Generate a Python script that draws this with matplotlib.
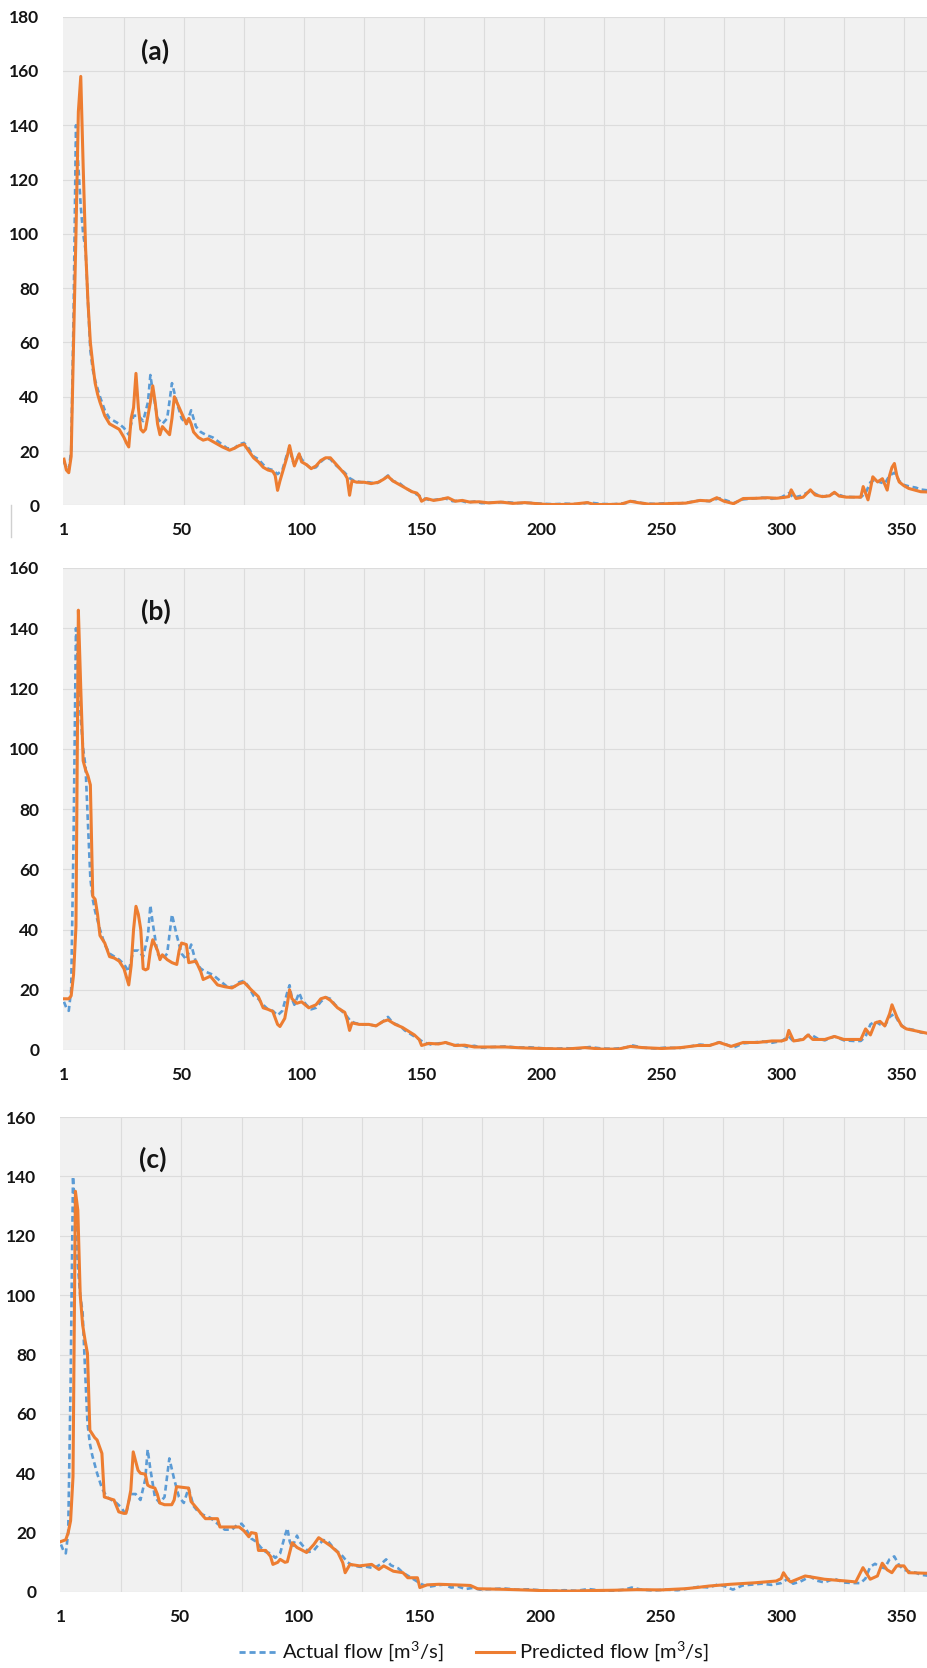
import matplotlib
matplotlib.use('Agg')
import matplotlib.pyplot as plt
from matplotlib.lines import Line2D

# ---------------- data ----------------
actual_days = [1, 2, 3, 4, 5, 6, 7, 8, 9, 10, 11, 12, 13, 14, 15, 16, 18, 20, 22, 24, 26, 28, 29, 30,
               32, 34, 36, 37, 38, 40, 42, 44, 46, 48, 50, 52, 54, 56, 58, 60, 63, 66, 69, 72, 74,
               76, 78, 80, 82, 84, 86, 88, 90, 92, 94, 95, 96, 97, 99, 100, 102, 104, 106, 108, 110,
               112, 114, 116, 118, 120, 122, 125, 128, 131, 134, 136, 138, 141, 143, 145, 147, 149,
               151, 154, 157, 160, 163, 166, 169, 172, 175, 180, 185, 190, 195, 200, 205, 210, 215,
               220, 225, 230, 235, 238, 242, 247, 252, 257, 262, 266, 270, 274, 277, 280, 284, 288,
               292, 296, 300, 303, 305, 308, 312, 315, 318, 322, 326, 330, 333, 335, 337, 339, 341,
               343, 345, 347, 349, 351, 353, 356, 358, 361]
actual_flow = [16, 14, 13, 20, 70, 140, 125, 110, 100, 94, 75, 57, 50, 46, 43, 40, 35, 32, 31, 30,
               28.5, 26, 30, 33, 33, 31, 38, 48, 42, 32, 30, 32, 45, 38, 32, 30, 35, 29, 27, 26, 25,
               23, 21, 21, 22.5, 23, 21, 18, 17, 15, 13.5, 13, 11.5, 13, 19, 21.5, 17, 15, 19, 17,
               15, 13.5, 14, 16, 17.5, 17, 15, 13.5, 12, 10, 9, 8.5, 8.5, 8, 9.5, 11, 9, 8, 6.5,
               5.5, 4.5, 3.5, 2.5, 1.8, 2.2, 2.5, 1.5, 1.8, 1.0, 1.4, 0.8, 1.0, 1.2, 0.8, 0.9, 0.6,
               0.4, 0.6, 0.4, 1.0, 0.5, 0.4, 0.8, 1.5, 0.8, 0.5, 0.8, 0.6, 1.2, 1.8, 1.5, 2.6, 1.8,
               0.8, 2.2, 2.5, 2.8, 2.4, 3.0, 4.5, 2.8, 3.5, 5.2, 3.8, 3.2, 4.5, 3.2, 3.0, 3.0, 4.5,
               8.5, 9.5, 8.5, 8, 11, 12, 9, 7.5, 7, 6.5, 5.8, 5.5]

pred_a_days = [1, 2, 3, 4, 5, 6, 7, 8, 9, 10, 11, 12, 13, 14, 15, 16, 18, 20, 22, 24, 26, 27, 28, 29,
               30, 31, 32, 33, 34, 35, 36, 37, 38, 39, 40, 41, 42, 43, 44, 45, 46, 47, 48, 50, 52,
               53, 54, 55, 57, 59, 61, 64, 67, 70, 72, 74, 76, 78, 80, 82, 84, 86, 88, 89, 90, 91,
               92, 94, 95, 96, 97, 99, 100, 102, 104, 106, 108, 110, 112, 114, 116, 118, 119, 120,
               121, 123, 126, 129, 132, 134, 136, 138, 140, 142, 144, 146, 148, 149, 150, 152, 155,
               158, 161, 164, 167, 170, 174, 178, 183, 188, 193, 198, 202, 208, 213, 219, 222, 228,
               233, 237, 240, 245, 250, 255, 260, 266, 270, 273, 276, 280, 284, 290, 294, 298, 301,
               303, 304, 306, 309, 312, 314, 317, 320, 322, 324, 327, 330, 333, 334, 336, 337, 338,
               340, 342, 344, 345, 346, 347, 348, 349, 351, 353, 356, 358, 361]
pred_a_flow = [17, 13, 12, 18, 60, 100, 145, 158, 125, 95, 75, 60, 52, 45, 41, 38, 33, 30, 29, 28,
               25, 23, 21.5, 32, 36, 48.6, 36, 28, 27, 28, 33, 38, 44, 38, 30, 26, 29, 28, 27, 26,
               32, 40, 38, 34, 30, 32, 30, 27, 25, 24, 24.5, 23, 21.5, 20.3, 21, 22, 22.5, 20, 17.5,
               16, 14, 13, 12.5, 11, 5.5, 9, 12, 18, 22, 18, 14.5, 19, 16, 15, 13.5, 14.5, 16.5,
               17.5, 17.5, 15.5, 13.5, 11.5, 10, 3.7, 9, 8.5, 8.5, 8.0, 8.5, 9.5, 10.7, 9, 8, 7, 6,
               5, 4.5, 3.5, 1.5, 2.5, 1.8, 2.2, 2.8, 1.5, 1.8, 1.2, 1.3, 0.9, 1.2, 0.7, 1.0, 0.6,
               0.3, 0.3, 0.4, 1.0, 0.3, 0.3, 0.4, 1.5, 1.0, 0.4, 0.5, 0.7, 0.8, 1.8, 1.6, 2.8, 1.5,
               0.6, 2.5, 2.6, 2.8, 2.6, 2.9, 3.2, 5.7, 2.5, 3.0, 5.7, 3.8, 3.2, 3.5, 4.8, 3.4, 3.0,
               3.0, 3.0, 6.9, 2.0, 6, 10.5, 8.6, 9.8, 5.6, 11, 14, 15.4, 11, 8.6, 7.2, 6.2, 5.5,
               5.0, 4.9]

pred_b_days = [1, 3, 4, 5, 6, 7, 8, 9, 10, 11, 12, 13, 14, 15, 16, 18, 20, 22, 24, 26, 28, 29, 30,
               31, 32, 33, 34, 35, 36, 37, 38, 40, 41, 42, 44, 46, 48, 49, 50, 52, 53, 56, 58, 59,
               62, 65, 68, 71, 74, 76, 79, 82, 84, 86, 88, 90, 91, 93, 94, 95, 96, 98, 100, 103,
               106, 108, 110, 112, 115, 118, 119, 120, 121, 124, 128, 131, 134, 136, 139, 142, 145,
               147, 149, 150, 153, 157, 160, 164, 168, 172, 178, 185, 192, 200, 210, 218, 225, 232,
               237, 242, 250, 258, 265, 270, 274, 279, 284, 290, 296, 300, 302, 303, 305, 309, 311,
               313, 318, 322, 326, 330, 333, 335, 337, 339, 341, 343, 345, 346, 348, 350, 352, 355,
               358, 361]
pred_b_flow = [17, 17, 18, 25, 41, 146, 120, 96, 93, 91, 88, 51, 50, 45, 38, 35.5, 31, 30.5, 29.5,
               27, 21.6, 28, 40, 47.7, 45, 40, 27, 26.6, 27, 33, 36.6, 33, 30, 31.6, 30, 29, 28.4,
               33, 35.5, 35, 29, 29.5, 26, 23.4, 24.5, 21.6, 21, 20.6, 22, 22.5, 20, 17.7, 14, 13.5,
               12.8, 8.5, 7.8, 10.5, 15, 20, 17, 15.5, 16, 14, 15, 17, 17.5, 16.5, 14, 12.5, 10,
               6.5, 9, 8.5, 8.5, 8, 9.5, 10, 8.5, 7.5, 6, 5, 3.5, 1.5, 2.2, 2.0, 2.5, 1.5, 1.6,
               1.0, 1.0, 1.0, 0.7, 0.5, 0.3, 0.8, 0.3, 0.3, 1.2, 0.8, 0.5, 0.8, 1.5, 1.5, 2.5, 1.2,
               2.5, 2.5, 3.0, 3.0, 3.5, 6.5, 3.0, 3.5, 5.0, 3.5, 3.5, 4.5, 3.5, 3.5, 3.5, 7, 5, 9,
               9.5, 8, 12, 15, 11, 8, 7.0, 6.5, 6, 5.5]

pred_c_days = [1, 3, 4, 5, 6, 7, 8, 9, 10, 11, 12, 13, 15, 16, 18, 19, 21, 23, 25, 27, 28, 29, 30,
               31, 33, 34, 36, 37, 38, 40, 41, 42, 44, 47, 48, 49, 54, 55, 58, 60, 61, 66, 67, 75,
               77, 79, 80, 82, 83, 86, 88, 89, 91, 92, 94, 95, 97, 99, 103, 106, 108, 110, 113, 116,
               118, 119, 121, 125, 130, 133, 135, 139, 143, 145, 149, 150, 153, 158, 165, 171, 174,
               185, 193, 200, 212, 222, 231, 240, 250, 260, 265, 270, 279, 289, 298, 300, 301, 303,
               304, 310, 313, 318, 327, 331, 334, 337, 340, 342, 344, 346, 348, 351, 353, 361]
pred_c_flow = [17, 17.6, 20, 24, 38.8, 135, 128.6, 100, 90, 84.8, 80.4, 54.5, 52, 51.2, 46.7, 32,
               31.5, 31, 27, 26.5, 26.5, 30, 34.3, 47.2, 41, 40, 39.7, 36, 35.5, 35, 33, 30, 29.4,
               29.4, 31, 35.5, 35, 30.5, 27.6, 25.6, 24.7, 24.7, 21.9, 21.9, 20.6, 18.6, 20, 19.7,
               14, 14, 12, 9.3, 10, 11, 10, 10.2, 16.6, 15, 13.3, 16, 18.3, 17.2, 15.5, 13.3, 9.9,
               6.5, 9.3, 8.8, 9.3, 7.6, 8.8, 7, 6.5, 4.8, 4.8, 1.5, 2.4, 2.6, 2.4, 2.2, 1.1, 0.9,
               0.7, 0.5, 0.3, 0.5, 0.6, 0.8, 0.7, 1.1, 1.5, 2.0, 2.6, 3.1, 3.7, 4.5, 6.5, 4, 3.4,
               5.4, 5.0, 4.3, 3.7, 3.4, 8.2, 4.3, 5.4, 9.7, 7.5, 6.5, 8.8, 8.8, 6.5, 6.3]

panel_labels = ['(a)', '(b)', '(c)']
y_max = [180, 160, 160]
x_tick_labels = [1, 50, 100, 150, 200, 250, 300, 350]
series_names = ['Actual flow [m$^{3}$/s]', 'Predicted flow [m$^{3}$/s]']

# ---------------- styling ----------------
plt.rcParams['font.family'] = ['Lato', 'DejaVu Sans']
plt.rcParams['mathtext.fontset'] = 'custom'
plt.rcParams['mathtext.rm'] = 'Lato'
BLUE = '#5b9bd5'
ORANGE = '#ed7d31'
BG = '#f1f1f1'
GRID = '#dcdcdc'
TXT = '#141414'

fig = plt.figure(figsize=(9.28, 16.68), dpi=100)

W, H = 928.0, 1668.0
# (left_px, top_px, bottom_px)
boxes = [(63, 16.7, 505.3), (63, 568, 1050), (60, 1117, 1592)]
pred_days = [pred_a_days, pred_b_days, pred_c_days]
pred_flow = [pred_a_flow, pred_b_flow, pred_c_flow]

for i in range(3):
    lpx, tpx, bpx = boxes[i]
    ax = fig.add_axes([lpx / W, 1 - bpx / H, (W - lpx) / W, (bpx - tpx) / H])
    ax.set_facecolor(BG)
    for s in ax.spines.values():
        s.set_visible(False)

    ax.plot(actual_days, actual_flow, color=BLUE, lw=1.9, ls=(0, (2.2, 1.4)), zorder=3,
            label=series_names[0])
    ax.plot(pred_days[i], pred_flow[i], color=ORANGE, lw=2.2, zorder=4,
            label=series_names[1], solid_joinstyle='round')

    ax.set_xlim(0.6, 361)
    ax.set_ylim(0, y_max[i])
    ax.set_yticks(range(0, y_max[i] + 1, 20))
    ax.set_xticks(x_tick_labels)
    ax.set_xticks([1 + 25 * k for k in range(15)], minor=True)
    ax.grid(False)
    ax.grid(True, which='minor', axis='x', color=GRID, lw=0.8)
    ax.grid(True, which='major', axis='y', color=GRID, lw=0.8)
    ax.set_axisbelow(True)
    ax.tick_params(axis='both', which='both', length=0)
    ax.tick_params(axis='y', pad=17, labelsize=12.5, labelcolor=TXT)
    ax.tick_params(axis='x', pad=12, labelsize=12.5, labelcolor=TXT)
    for lab in ax.get_xticklabels() + ax.get_yticklabels():
        lab.set_fontweight('bold')

    ax.text(0.107, 0.93 if i == 0 else 0.91, panel_labels[i], transform=ax.transAxes,
            fontsize=19, fontweight='bold', color=TXT, ha='center', va='center')

# small artifact line at left of panel (a)
fig.add_artist(Line2D([10.6 / W, 10.6 / W], [1 - 505 / H, 1 - 537 / H], color='#d0d0d0', lw=1.0))

handles = [Line2D([], [], color=BLUE, lw=2.0, ls=(0, (2.2, 1.4))),
           Line2D([], [], color=ORANGE, lw=2.2)]
fig.legend(handles, series_names, loc='center', bbox_to_anchor=(474 / W, 1 - 1652 / H),
           ncol=2, frameon=False, fontsize=14.5, handlelength=1.9, handletextpad=0.25,
           columnspacing=1.6, labelcolor=TXT)

fig.savefig('out.png', dpi=100)
